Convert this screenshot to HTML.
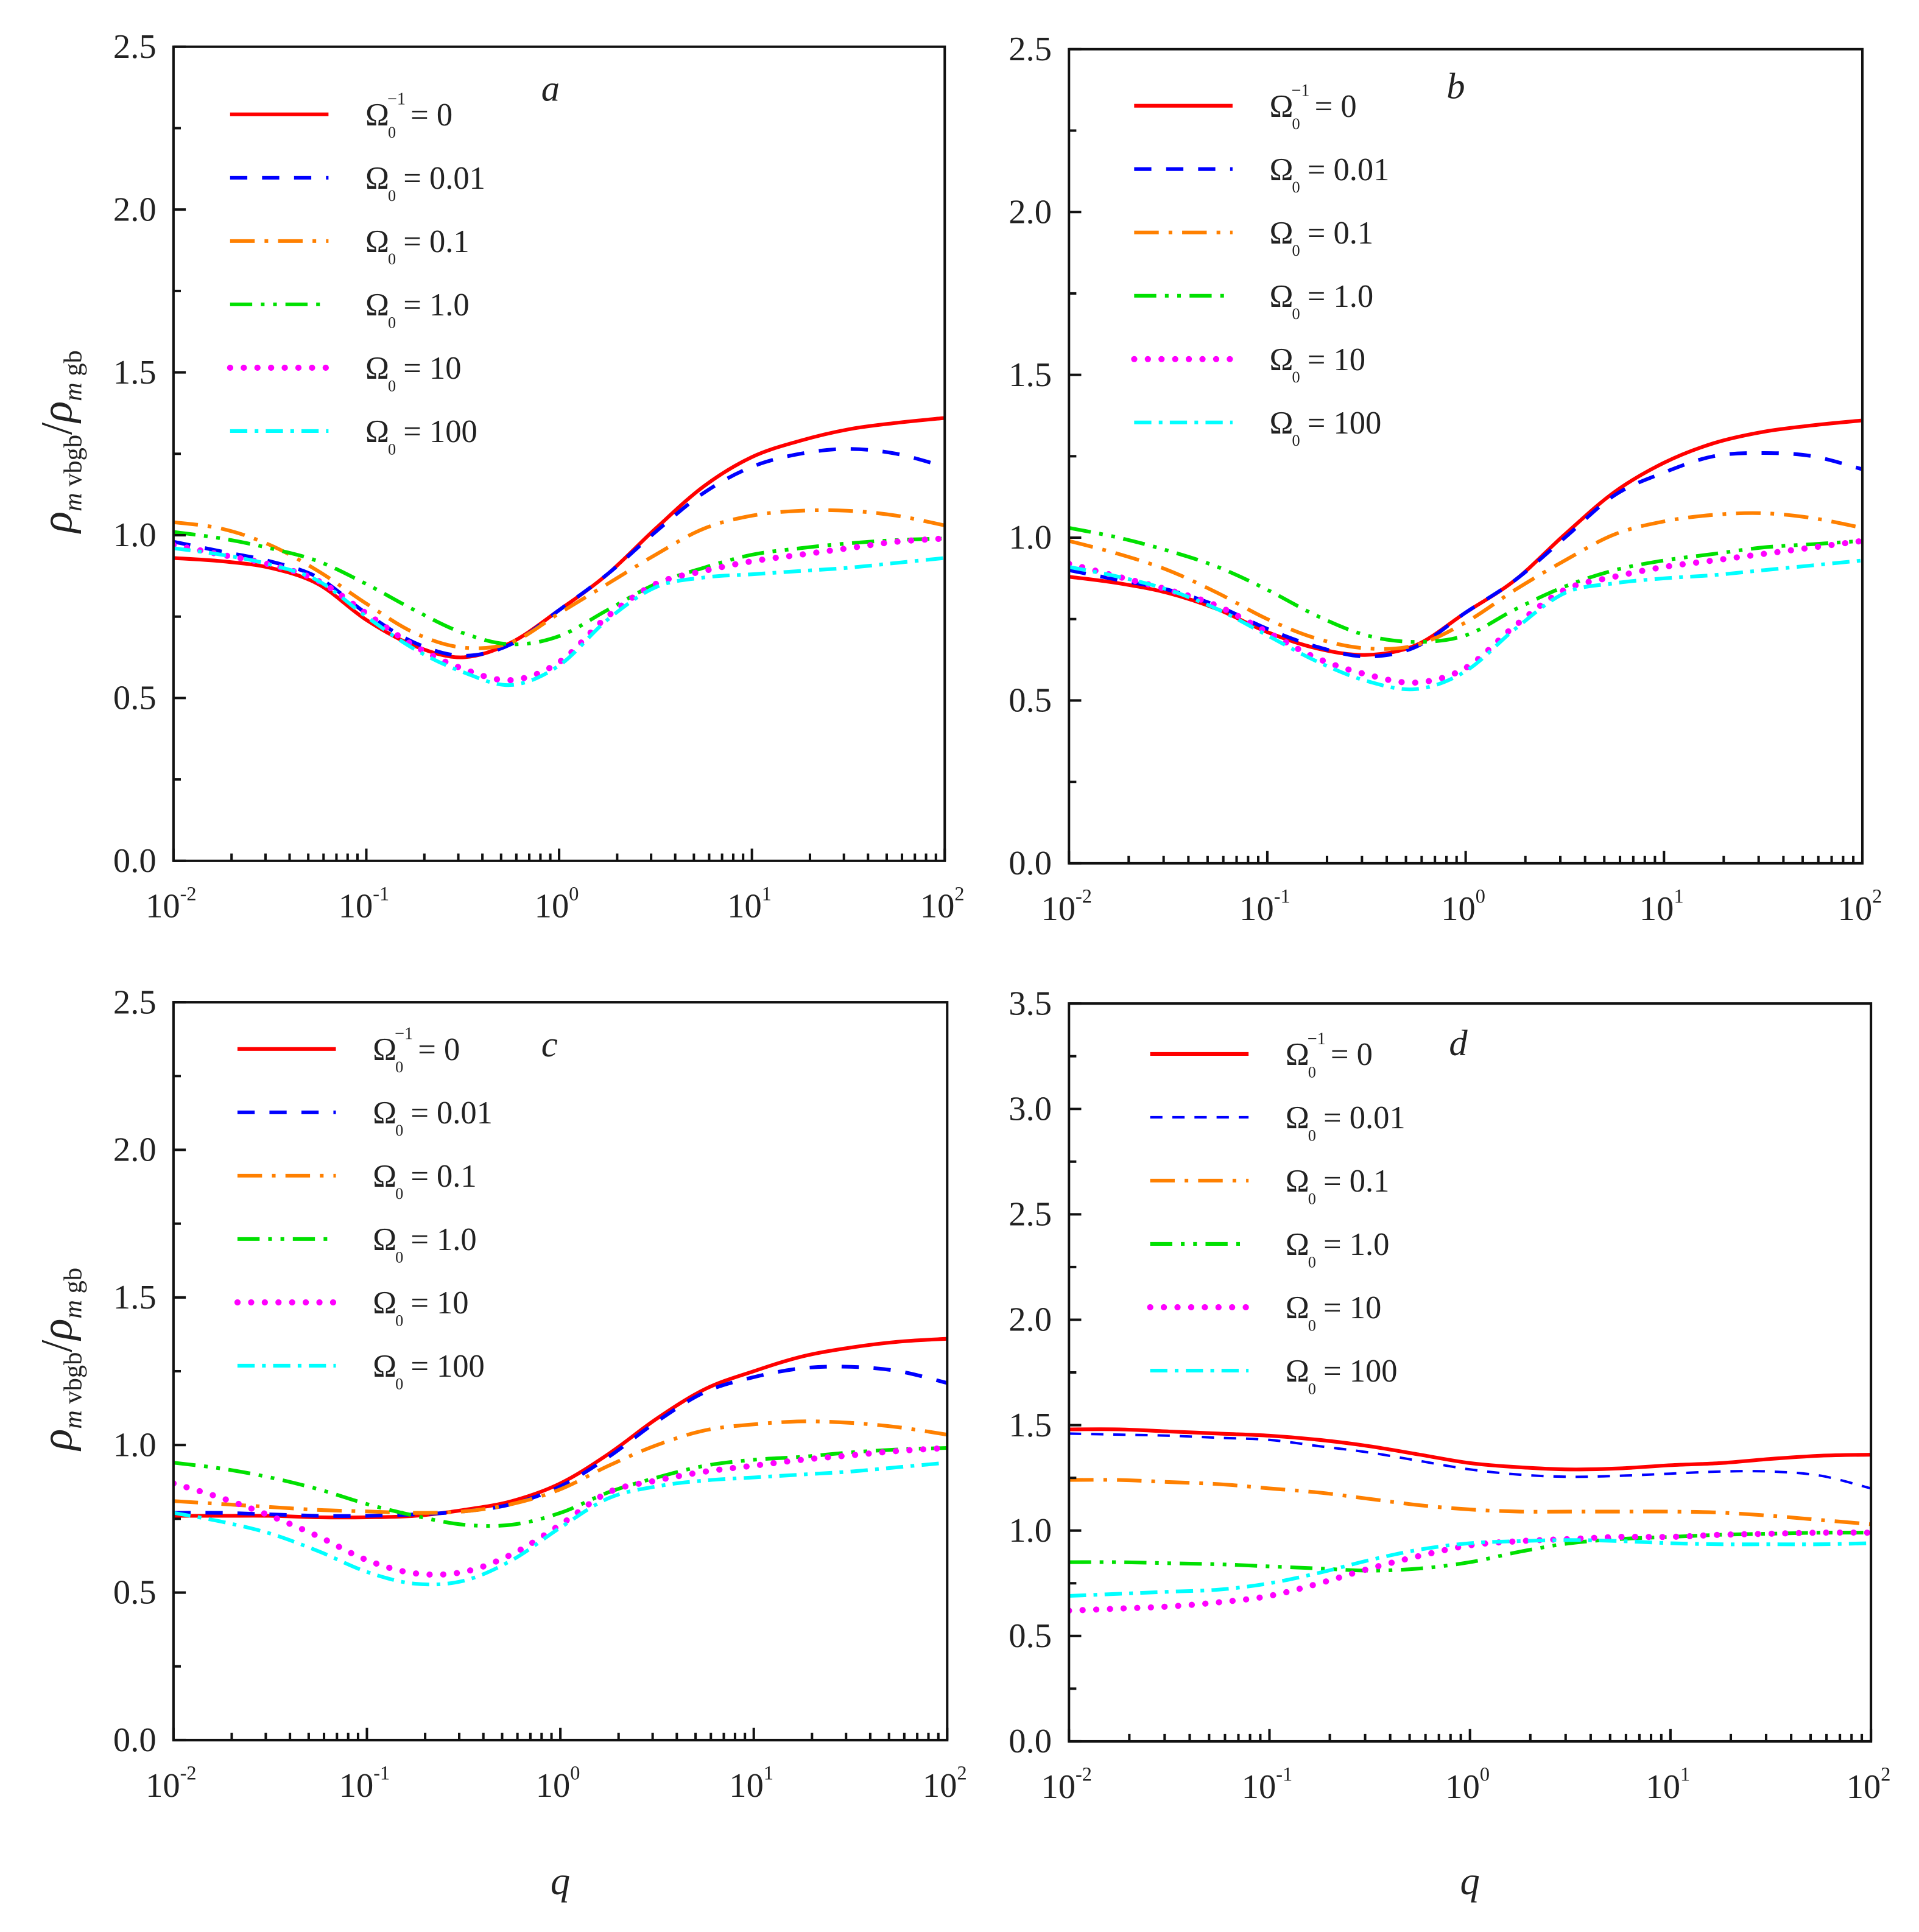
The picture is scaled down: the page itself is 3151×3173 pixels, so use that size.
<!DOCTYPE html>
<html><head><meta charset="utf-8"><style>
html,body{margin:0;padding:0;background:#fff}
svg{display:block}
text{font-family:"Liberation Serif",serif;fill:#222}
</style></head><body>
<svg id="fig" xmlns="http://www.w3.org/2000/svg" width="3151" height="3173" viewBox="0 0 1560 1571">
<rect width="1560" height="1571" fill="#fff"/>
<g id="root"></g>
</svg>
<script>
// Shared x grid: log10(q)
const logQ = [-2,-1.75,-1.5,-1.25,-1,-0.75,-0.5,-0.25,0,0.25,0.5,0.75,1,1.25,1.5,1.75,2];
const seriesLabels = ["Ω0^-1 = 0","Ω0 = 0.01","Ω0 = 0.1","Ω0 = 1.0","Ω0 = 10","Ω0 = 100"];
const yTicksAB = [0,0.5,1.0,1.5,2.0,2.5];
const yTicksD = [0,0.5,1.0,1.5,2.0,2.5,3.0,3.5];
const xTickExp = [-2,-1,0,1,2];

// Panel a
const aRed    = [0.93,0.92,0.90,0.85,0.74,0.66,0.625,0.67,0.77,0.88,1.02,1.15,1.24,1.29,1.325,1.345,1.36];
const aBlue   = [0.98,0.95,0.92,0.87,0.76,0.67,0.63,0.665,0.77,0.88,1.01,1.13,1.21,1.25,1.265,1.25,1.21];
const aOrange = [1.04,1.02,0.97,0.89,0.79,0.70,0.655,0.67,0.76,0.85,0.94,1.02,1.06,1.075,1.075,1.06,1.03];
const aGreen  = [1.01,0.99,0.96,0.92,0.85,0.77,0.70,0.665,0.69,0.77,0.85,0.90,0.94,0.96,0.975,0.985,0.99];
const aMag    = [0.97,0.94,0.91,0.86,0.76,0.66,0.59,0.555,0.61,0.75,0.85,0.89,0.92,0.94,0.96,0.98,0.99];
const aCyan   = [0.96,0.94,0.91,0.86,0.75,0.65,0.58,0.54,0.60,0.74,0.84,0.87,0.88,0.89,0.90,0.915,0.93];
// Panel b
const bRed    = [0.88,0.86,0.83,0.78,0.71,0.66,0.64,0.67,0.77,0.87,1.01,1.14,1.23,1.29,1.325,1.345,1.36];
const bBlue   = [0.90,0.87,0.84,0.79,0.72,0.665,0.635,0.665,0.77,0.87,1.00,1.13,1.20,1.25,1.26,1.25,1.21];
const bOrange = [0.99,0.95,0.90,0.83,0.75,0.69,0.66,0.67,0.74,0.84,0.93,1.01,1.05,1.07,1.075,1.06,1.03];
const bGreen  = [1.03,1.00,0.96,0.91,0.84,0.76,0.70,0.68,0.70,0.78,0.85,0.90,0.93,0.95,0.97,0.98,0.99];
const bMag    = [0.92,0.88,0.84,0.79,0.71,0.63,0.58,0.555,0.60,0.73,0.84,0.88,0.91,0.93,0.95,0.97,0.99];
const bCyan   = [0.91,0.88,0.84,0.78,0.70,0.62,0.56,0.535,0.59,0.72,0.83,0.86,0.875,0.885,0.90,0.915,0.93];
// Panel c
const cRed    = [0.76,0.76,0.76,0.755,0.755,0.76,0.78,0.81,0.87,0.97,1.09,1.19,1.25,1.30,1.33,1.35,1.36];
const cBlue   = [0.77,0.77,0.765,0.76,0.76,0.765,0.775,0.80,0.86,0.96,1.08,1.18,1.23,1.26,1.265,1.25,1.21];
const cOrange = [0.81,0.80,0.79,0.78,0.775,0.77,0.775,0.80,0.85,0.93,1.00,1.05,1.07,1.08,1.075,1.06,1.035];
const cGreen  = [0.94,0.92,0.89,0.85,0.80,0.76,0.73,0.73,0.77,0.84,0.89,0.93,0.95,0.96,0.975,0.985,0.99];
const cMag    = [0.87,0.82,0.76,0.69,0.61,0.565,0.57,0.63,0.73,0.84,0.88,0.91,0.93,0.95,0.965,0.98,0.99];
const cCyan   = [0.77,0.74,0.70,0.64,0.57,0.53,0.54,0.61,0.72,0.82,0.86,0.88,0.89,0.90,0.91,0.925,0.94];
// Panel d
const dRed    = [1.48,1.48,1.47,1.46,1.45,1.43,1.40,1.36,1.32,1.30,1.29,1.295,1.31,1.32,1.34,1.355,1.36];
const dBlue   = [1.46,1.455,1.45,1.44,1.43,1.40,1.37,1.33,1.29,1.265,1.255,1.26,1.27,1.28,1.28,1.26,1.20];
const dOrange = [1.24,1.24,1.23,1.22,1.20,1.18,1.15,1.12,1.10,1.09,1.09,1.09,1.09,1.085,1.07,1.05,1.03];
const dGreen  = [0.85,0.85,0.845,0.84,0.83,0.82,0.81,0.82,0.85,0.90,0.94,0.96,0.97,0.98,0.985,0.99,0.99];
const dMag    = [0.62,0.63,0.64,0.66,0.69,0.75,0.82,0.88,0.93,0.95,0.96,0.97,0.97,0.98,0.985,0.99,0.99];
const dCyan   = [0.69,0.70,0.71,0.72,0.75,0.80,0.86,0.91,0.94,0.95,0.955,0.95,0.94,0.935,0.935,0.935,0.94];

const NS="http://www.w3.org/2000/svg";
const root=document.getElementById('root');
function mk(tag,attrs,parent){const e=document.createElementNS(NS,tag);for(const k in attrs)e.setAttribute(k,attrs[k]);(parent||root).appendChild(e);return e;}

const styles=[
 {c:"#ff0000",w:3,d:"none",cap:"butt"},
 {c:"#0000ff",w:3,d:"14 12",cap:"butt"},
 {c:"#ff8000",w:3,d:"20 8 3 8",cap:"butt"},
 {c:"#00e000",w:3,d:"18 7 3 7 3 7",cap:"butt"},
 {c:"#ff00ff",w:5,d:"0.1 11",cap:"round"},
 {c:"#00ffff",w:3,d:"14 6 3 6",cap:"butt"}
];
const sNames=["omega-inf","omega-0.01","omega-0.1","omega-1.0","omega-10","omega-100"];

const panels=[
 {id:"a",x0:141,x1:768,y0:38,y1:700,ymax:2.5,ticks:yTicksAB,series:[aRed,aBlue,aOrange,aGreen,aMag,aCyan],lx:187,ly:95,letter:[440,82],ylab:true},
 {id:"b",x0:869,x1:1514,y0:40,y1:702,ymax:2.5,ticks:yTicksAB,series:[bRed,bBlue,bOrange,bGreen,bMag,bCyan],lx:922,ly:88,letter:[1176,80],ylab:false},
 {id:"c",x0:141,x1:770,y0:815,y1:1415,ymax:2.5,ticks:yTicksAB,series:[cRed,cBlue,cOrange,cGreen,cMag,cCyan],lx:193,ly:855,letter:[440,859],ylab:true,xlab:true},
 {id:"d",x0:869,x1:1521,y0:816,y1:1416,ymax:3.5,ticks:yTicksD,series:[dRed,dBlue,dOrange,dGreen,dMag,dCyan],lx:935,ly:859,letter:[1178,858],ylab:false,xlab:true,thinBlue:true}
];

function path(pts){
  let d="M"+pts[0][0].toFixed(2)+","+pts[0][1].toFixed(2);
  for(let i=0;i<pts.length-1;i++){
    const p0=pts[Math.max(i-1,0)],p1=pts[i],p2=pts[i+1],p3=pts[Math.min(i+2,pts.length-1)];
    const c1=[p1[0]+(p2[0]-p0[0])/6,p1[1]+(p2[1]-p0[1])/6];
    const c2=[p2[0]-(p3[0]-p1[0])/6,p2[1]-(p3[1]-p1[1])/6];
    d+=" C"+c1[0].toFixed(2)+","+c1[1].toFixed(2)+" "+c2[0].toFixed(2)+","+c2[1].toFixed(2)+" "+p2[0].toFixed(2)+","+p2[1].toFixed(2);
  }
  return d;
}

panels.forEach(P=>{
  const g=mk('g',{});
  
  
  const xs=l=>P.x0+(l+2)/4*(P.x1-P.x0);
  const ys=v=>P.y1-v/P.ymax*(P.y1-P.y0);
  const clip=mk('clipPath',{id:'clip'+P.id},g);
  mk('rect',{x:P.x0,y:P.y0,width:P.x1-P.x0,height:P.y1-P.y0},clip);
  P.series.forEach((arr,si)=>{
    const st=styles[si];
    const pts=logQ.map((l,i)=>[xs(l),ys(arr[i])]);
    let w=st.w,da=st.d;
    if(P.thinBlue&&si===1){w=2;da="10 8";}
    const p=mk('path',{d:path(pts),fill:"none",stroke:st.c,"stroke-width":w,"stroke-dasharray":da,"stroke-linecap":st.cap,"clip-path":"url(#clip"+P.id+")"},g);
    
    
    const ly=P.ly+si*51.5;
    const ls=mk('line',{x1:P.lx,y1:ly-2,x2:P.lx+80,y2:ly-2,stroke:st.c,"stroke-width":w,"stroke-dasharray":da,"stroke-linecap":st.cap},g);
    
    
    const t=mk('text',{x:P.lx+110,y:ly+7,"font-size":26},g);
    
    
    const lab=seriesLabels[si];
    const om=mk('tspan',{},t);om.textContent="Ω";
    const sub=mk('tspan',{"font-size":13,dy:10,dx:-1},t);sub.textContent="0";
    if(lab.indexOf("^-1")>=0){
      const sup=mk('tspan',{"font-size":14,dy:-27,dx:-7},t);sup.textContent="−1";
      const rest=mk('tspan',{dy:17,dx:4},t);rest.textContent="= "+lab.split("= ")[1];
    } else {
      const rest=mk('tspan',{dy:-10,dx:6},t);rest.textContent="= "+lab.split("= ")[1];
    }
  });
  const fr=mk('rect',{x:P.x0,y:P.y0,width:P.x1-P.x0,height:P.y1-P.y0,fill:"none",stroke:"#111","stroke-width":2},g);
  
  
  P.ticks.forEach((v,i)=>{
    const y=ys(v);
    mk('line',{x1:P.x0,y1:y,x2:P.x0+10,y2:y,stroke:"#111","stroke-width":2},g);
    if(i<P.ticks.length-1){const ym=ys(v+0.25);mk('line',{x1:P.x0,y1:ym,x2:P.x0+6,y2:ym,stroke:"#111","stroke-width":2},g);}
    const t=mk('text',{x:P.x0-14,y:y+9,"font-size":28,"text-anchor":"end"},g);
    t.textContent=v.toFixed(1);
    
    
  });
  xTickExp.forEach((e,i)=>{
    const x=xs(e);
    mk('line',{x1:x,y1:P.y1,x2:x,y2:P.y1-10,stroke:"#111","stroke-width":2},g);
    if(i<xTickExp.length-1){for(let k=2;k<=9;k++){const xm=xs(e+Math.log10(k));mk('line',{x1:xm,y1:P.y1,x2:xm,y2:P.y1-6,stroke:"#111","stroke-width":2},g);}}
    const t=mk('text',{x:x-2,y:P.y1+46,"font-size":28,"text-anchor":"middle"},g);
    
    
    const a=mk('tspan',{},t);a.textContent="10";
    const b=mk('tspan',{"font-size":16,dy:-14},t);b.textContent=String(e);
  });
  const lt=mk('text',{x:P.letter[0],y:P.letter[1],"font-size":30,"font-style":"italic"},g);
  lt.textContent=P.id;
  
  
  if(P.ylab){
    const cy=(P.y0+P.y1)/2-10;
    const t=mk('text',{x:0,y:0,"font-size":36,"text-anchor":"middle",transform:"translate(58,"+cy+") rotate(-90)"},g);
    
    
    const r1=mk('tspan',{"font-style":"italic"},t);r1.textContent="ρ";
    const s1=mk('tspan',{"font-size":21,dy:8},t);s1.innerHTML='<tspan font-style="italic">m</tspan> vbgb';
    const r2=mk('tspan',{dy:-8},t);r2.innerHTML='/<tspan font-style="italic">ρ</tspan>';
    const s2=mk('tspan',{"font-size":21,dy:8},t);s2.innerHTML='<tspan font-style="italic">m</tspan> gb';
  }
  if(P.xlab){
    const t=mk('text',{x:(P.x0+P.x1)/2,y:1540,"font-size":32,"font-style":"italic","text-anchor":"middle"},g);
    t.textContent="q";
    
    
  }
});
</script>
</body></html>
